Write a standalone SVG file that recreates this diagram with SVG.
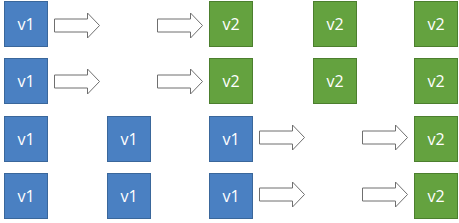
<svg xmlns="http://www.w3.org/2000/svg" width="459" height="223" viewBox="0 0 459 223">
<defs>
<style>
.b{fill:#4A80C2;stroke:#3A679B;stroke-width:1}
.g{fill:#64A23F;stroke:#4C7F2E;stroke-width:1}
.t{fill:#fff;font-family:"Open Sans","Liberation Sans",sans-serif;font-size:16px;text-anchor:middle;dominant-baseline:central}
.a{fill:#fff;stroke:#6f6f6f;stroke-width:1}
</style>
<polygon id="arr" points="0,-6.5 33,-6.5 33,-12.5 45,0 33,12.5 33,6.5 0,6.5"/>
</defs>
<rect width="459" height="223" fill="#fff"/>
<g id="r1c1"><rect class="b" x="4.5" y="1.5" width="43" height="45"/><text class="t" x="26" y="24">v1</text></g>
<g id="r1c3"><rect class="g" x="209.5" y="1.5" width="43" height="45"/><text class="t" x="231" y="24">v2</text></g>
<g id="r1c4"><rect class="g" x="313.5" y="1.5" width="43" height="45"/><text class="t" x="335" y="24">v2</text></g>
<g id="r1c5"><rect class="g" x="414.5" y="1.5" width="43" height="45"/><text class="t" x="436" y="24">v2</text></g>
<g id="r2c1"><rect class="b" x="4.5" y="58.5" width="43" height="45"/><text class="t" x="26" y="81">v1</text></g>
<g id="r2c3"><rect class="g" x="209.5" y="58.5" width="43" height="45"/><text class="t" x="231" y="81">v2</text></g>
<g id="r2c4"><rect class="g" x="313.5" y="58.5" width="43" height="45"/><text class="t" x="335" y="81">v2</text></g>
<g id="r2c5"><rect class="g" x="414.5" y="58.5" width="43" height="45"/><text class="t" x="436" y="81">v2</text></g>
<g id="r3c1"><rect class="b" x="4.5" y="116.5" width="43" height="45"/><text class="t" x="26" y="139">v1</text></g>
<g id="r3c2"><rect class="b" x="107.5" y="116.5" width="43" height="45"/><text class="t" x="129" y="139">v1</text></g>
<g id="r3c3"><rect class="b" x="209.5" y="116.5" width="43" height="45"/><text class="t" x="231" y="139">v1</text></g>
<g id="r3c5"><rect class="g" x="414.5" y="116.5" width="43" height="45"/><text class="t" x="436" y="139">v2</text></g>
<g id="r4c1"><rect class="b" x="4.5" y="173.5" width="43" height="45"/><text class="t" x="26" y="196">v1</text></g>
<g id="r4c2"><rect class="b" x="107.5" y="173.5" width="43" height="45"/><text class="t" x="129" y="196">v1</text></g>
<g id="r4c3"><rect class="b" x="209.5" y="173.5" width="43" height="45"/><text class="t" x="231" y="196">v1</text></g>
<g id="r4c5"><rect class="g" x="414.5" y="173.5" width="43" height="45"/><text class="t" x="436" y="196">v2</text></g>
<g id="connectors">
<use href="#arr" class="a" x="54.5" y="25.5"/>
<use href="#arr" class="a" x="157.5" y="25.5"/>
<use href="#arr" class="a" x="54.5" y="81.5"/>
<use href="#arr" class="a" x="157.5" y="81.5"/>
<use href="#arr" class="a" x="259.5" y="137.5"/>
<use href="#arr" class="a" x="362.5" y="137.5"/>
<use href="#arr" class="a" x="259.5" y="194.5"/>
<use href="#arr" class="a" x="362.5" y="194.5"/>
</g>
</svg>
